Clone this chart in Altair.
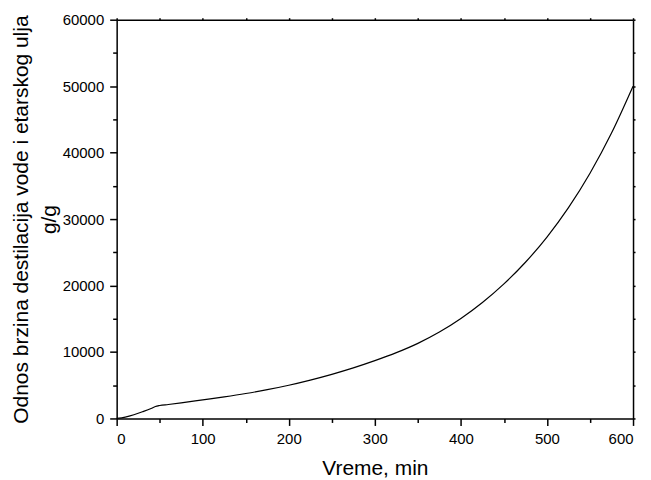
import altair as alt
import pandas as pd

time_min = [0, 10, 20, 30, 40, 45, 50, 60, 75, 100, 125, 150, 175, 200, 225, 250,
            275, 300, 325, 350, 375, 400, 425, 450, 475, 500, 525, 550, 575, 600]
ratio = [0, 200, 550, 1000, 1500, 1800, 1950, 2100, 2350, 2800, 3250, 3750, 4330, 5000,
         5775, 6640, 7610, 8700, 9900, 11300, 13000, 15050, 17450, 20250, 23500, 27300,
         31720, 36900, 42950, 50000]

x_ticks = list(range(0, 601, 50))
y_ticks = list(range(0, 60001, 5000))

df = pd.DataFrame({"t": time_min, "r": ratio})

FONT = "Liberation Sans"

xs = alt.Scale(domain=[0, 600], nice=False)
ys = alt.Scale(domain=[0, 60000], nice=False)

main = alt.Chart(df).mark_line(color="black", strokeWidth=1.2, interpolate="monotone").encode(
    x=alt.X("t:Q", scale=xs, axis=alt.Axis(
        values=x_ticks, title="Vreme, min", grid=False,
        labelExpr="datum.value % 100 === 0 ? datum.label : ''",
        tickSize={"condition": {"test": "datum.value % 100 === 0", "value": 7}, "value": 4},
        labelPadding=6, labelFontSize=15, titleFontSize=21, titleFontWeight="normal",
        titleBaseline="alphabetic", titleY=56,
    )),
    y=alt.Y("r:Q", scale=ys, axis=alt.Axis(
        values=y_ticks, title=["Odnos brzina destilacija vode i etarskog ulja", "g/g"],
        grid=False, labelExpr="datum.value % 10000 === 0 ? datum.label : ''",
        format="d",
        tickSize={"condition": {"test": "datum.value % 10000 === 0", "value": 7}, "value": 4},
        labelPadding=6, labelFontSize=15, titleFontSize=21, titleFontWeight="normal",
        titleAlign="center", titleBaseline="bottom", titleX=-85, titleY=200,
        titleLineHeight=28,
    )),
)

box = alt.Chart(df).mark_line(opacity=0, interpolate="monotone").encode(
    x=alt.X("t:Q", scale=xs, axis=alt.Axis(
        orient="top", values=x_ticks, labels=False, title=None, grid=False, tickSize=2)),
    y=alt.Y("r:Q", scale=ys, axis=alt.Axis(
        orient="right", values=y_ticks, labels=False, title=None, grid=False, tickSize=2)),
)

chart = alt.layer(main, box).resolve_axis(x="independent", y="independent").properties(
    width=518, height=400,
    autosize=alt.AutoSizeParams(type="none"),
    padding={"left": 109, "top": 11, "right": 10, "bottom": 61},
).configure_axis(
    labelFont=FONT, titleFont=FONT, labelColor="black", titleColor="black",
    domainColor="black", tickColor="black", domainWidth=1.5, tickWidth=1.5,
).configure_view(stroke=None)

chart.save("out.html", embed_options={"renderer": "svg", "actions": False})
